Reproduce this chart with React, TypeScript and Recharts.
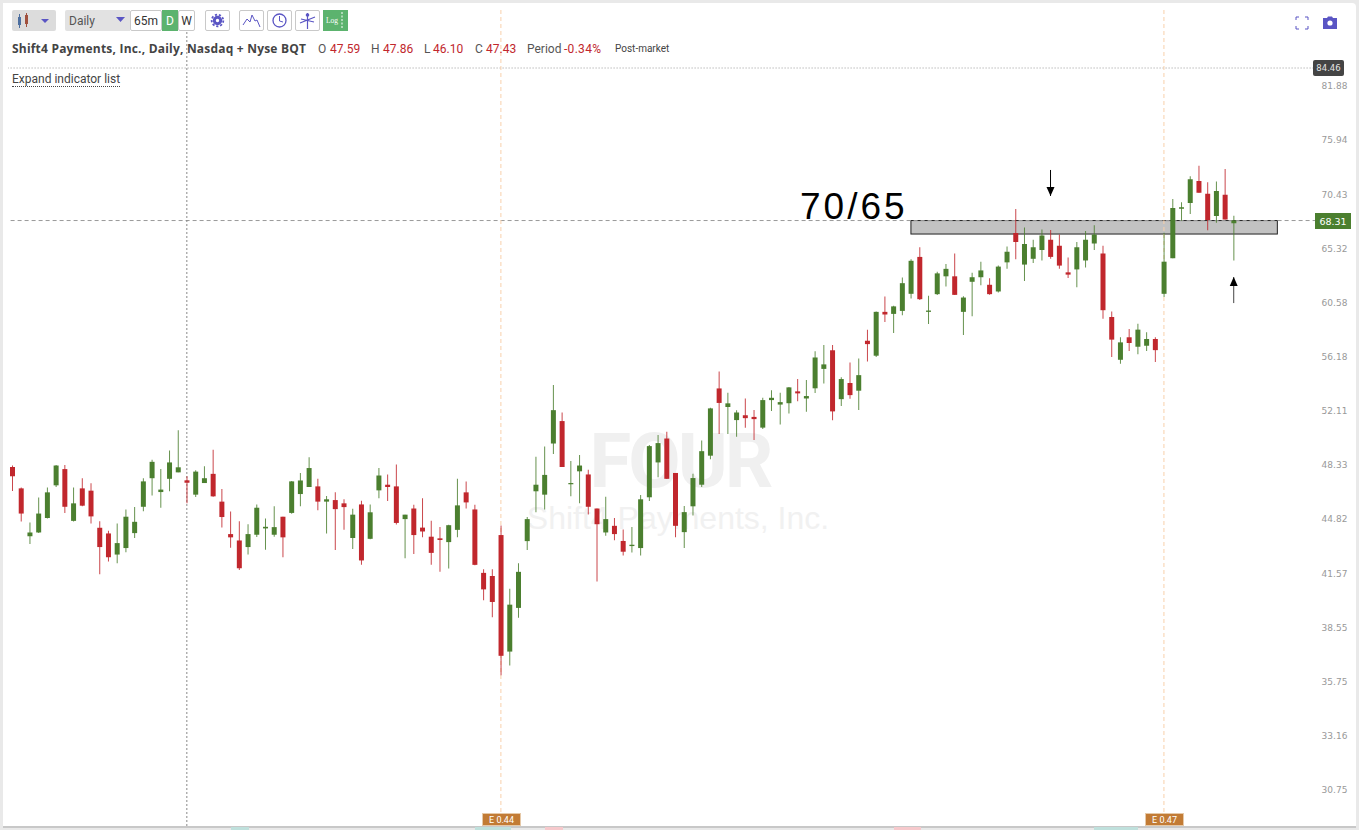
import React from "react";
import {
  ComposedChart,
  Bar,
  Cell,
  XAxis,
  YAxis,
  ReferenceLine,
  ReferenceArea,
  ReferenceDot,
} from "recharts";

const opens = [
  48.48, 47.06, 44.02, 44.26, 45.16, 47.26, 48.34, 44.98, 47.06, 46.91,
  44.55, 44.2, 42.92, 43.31, 44.22, 45.87, 47.73, 46.82, 47.69, 48.12,
  47.59, 46.65, 47.41, 48.02, 46.2, 44.16, 43.77, 43.37, 44.12, 44.51,
  44.12, 45.24, 45.48, 46.69, 47.15, 47.19, 46.2, 46.3, 46.09, 43.92,
  46.02, 43.87, 46.93, 47.3, 47.19, 45.09, 45.76, 44.56, 44.0, 43.9,
  43.67, 44.42, 46.8, 45.7, 41.84, 41.66, 44.1, 37.5, 39.85, 43.73,
  46.87, 46.65, 50.09, 51.68, 47.33, 48.19, 47.98, 45.76, 44.26, 44.67,
  43.74, 43.43, 43.31, 46.48, 48.79, 50.44, 48.08, 44.28, 45.9, 47.3,
  49.25, 54.08, 52.7, 51.75, 52.1, 51.98, 51.21, 53.21, 52.88, 52.98,
  53.86, 53.33, 54.09, 55.57, 57.03, 53.28, 54.49, 53.91, 57.79, 56.6,
  60.16, 59.99, 60.24, 61.69, 64.94, 60.16, 61.66, 63.21, 63.21, 60.16,
  62.73, 63.13, 62.47, 61.89, 64.45, 67.13, 64.25, 64.77, 65.56, 66.52,
  65.95, 63.56, 63.82, 64.62, 66.17, 65.25, 59.73, 56.28, 58.07, 57.31,
  57.39, 57.93, 61.69, 64.82, 69.45, 70.01, 72.18, 70.91, 68.74, 70.81,
  68.05,
];
const closes = [
  47.86, 45.44, 44.26, 45.44, 46.8, 48.58, 45.87, 46.09, 45.94, 45.26,
  43.37, 42.76, 43.61, 45.24, 44.92, 47.52, 48.83, 46.98, 48.79, 48.46,
  47.43, 48.17, 47.73, 46.54, 45.22, 43.96, 42.11, 44.16, 45.81, 44.61,
  44.59, 43.96, 47.52, 47.58, 48.41, 46.2, 46.35, 45.72, 45.85, 45.37,
  42.57, 45.52, 47.91, 47.15, 44.85, 45.37, 44.1, 44.32, 43.02, 43.8,
  44.71, 45.96, 46.15, 42.31, 40.89, 40.18, 37.28, 40.03, 41.9, 45.09,
  47.3, 47.95, 52.47, 48.48, 47.41, 48.58, 45.87, 44.77, 45.09, 44.16,
  43.09, 43.51, 46.35, 49.91, 50.12, 47.69, 44.67, 45.53, 47.74, 49.56,
  52.6, 53.0, 52.97, 52.3, 51.89, 51.82, 53.21, 53.38, 53.06, 54.16,
  53.71, 53.51, 56.46, 55.92, 52.38, 54.79, 53.58, 55.09, 57.52, 60.16,
  59.94, 60.62, 62.61, 64.59, 61.23, 60.27, 63.47, 63.87, 61.6, 61.37,
  63.13, 63.73, 61.66, 64.07, 65.4, 66.3, 66.11, 65.82, 66.91, 64.94,
  64.16, 63.36, 65.82, 66.52, 67.0, 60.3, 57.88, 57.66, 57.61, 58.69,
  57.93, 57.04, 64.51, 69.51, 69.58, 72.35, 71.01, 68.36, 71.18, 68.42,
  68.31,
];
const highs = [
  48.58, 47.11, 44.87, 46.46, 47.11, 48.62, 48.62, 47.11, 47.73, 47.39,
  44.96, 44.36, 44.81, 45.7, 45.85, 47.73, 48.97, 48.34, 49.6, 51.03,
  47.86, 48.27, 48.53, 49.65, 47.02, 45.57, 44.96, 44.77, 46.02, 45.13,
  45.91, 45.24, 47.55, 48.08, 49.14, 47.69, 46.56, 46.8, 46.35, 45.74,
  46.26, 46.02, 48.41, 47.97, 48.65, 45.37, 46.0, 46.41, 44.98, 44.6,
  44.73, 47.69, 47.52, 46.0, 42.05, 42.05, 44.69, 40.93, 42.41, 45.22,
  49.18, 49.88, 54.33, 52.3, 48.88, 49.3, 48.3, 45.76, 46.52, 45.16,
  44.45, 44.59, 46.63, 49.98, 50.68, 50.91, 48.08, 45.92, 48.02, 50.3,
  52.65, 55.36, 53.76, 52.47, 53.33, 52.48, 53.38, 53.94, 53.76, 54.19,
  54.79, 54.71, 56.95, 57.44, 57.44, 54.92, 56.07, 56.38, 58.69, 60.18,
  61.46, 60.68, 63.1, 64.74, 65.82, 61.52, 63.62, 64.3, 65.25, 61.49,
  63.53, 64.51, 63.04, 64.16, 65.88, 69.42, 67.65, 66.52, 67.46, 67.42,
  67.0, 64.88, 66.3, 67.33, 67.87, 65.95, 60.19, 58.07, 58.75, 59.18,
  58.48, 58.07, 67.17, 70.38, 70.06, 72.65, 73.72, 72.05, 72.12, 73.39,
  68.77,
];
const lows = [
  46.89, 44.94, 43.55, 44.22, 45.13, 47.15, 45.48, 44.94, 45.91, 44.81,
  41.76, 42.51, 42.41, 43.06, 43.92, 45.59, 46.59, 45.81, 46.87, 48.12,
  46.1, 46.5, 47.41, 46.52, 44.57, 43.33, 42.01, 42.92, 43.98, 43.21,
  44.0, 42.76, 45.42, 45.91, 47.15, 45.65, 44.2, 43.2, 44.42, 43.25,
  42.31, 43.85, 46.41, 46.24, 44.75, 42.7, 42.96, 43.96, 42.31, 41.91,
  42.09, 43.96, 45.76, 42.29, 40.28, 39.33, 36.29, 36.78, 39.31, 43.2,
  45.52, 45.7, 49.37, 48.48, 46.54, 46.09, 45.38, 41.34, 44.06, 43.78,
  42.86, 43.04, 42.86, 46.24, 47.8, 47.67, 43.96, 43.31, 45.31, 47.15,
  49.0, 50.75, 50.75, 50.56, 51.21, 50.33, 51.12, 52.4, 51.44, 52.23,
  53.13, 52.35, 53.73, 54.46, 51.73, 52.78, 53.31, 52.48, 56.15, 56.49,
  59.32, 58.42, 59.88, 61.29, 61.17, 59.15, 61.58, 62.32, 61.58, 58.25,
  59.8, 62.44, 61.6, 61.81, 63.87, 64.74, 62.81, 64.39, 64.62, 64.77,
  63.87, 63.07, 62.26, 63.99, 65.56, 59.59, 56.49, 55.97, 56.98, 56.71,
  56.98, 56.1, 61.41, 64.82, 68.29, 68.93, 71.01, 67.39, 68.1, 68.42,
  64.62,
];
const priceTicks = [81.88, 75.94, 70.43, 65.32, 60.58, 56.18, 52.11, 48.33, 44.82, 41.57, 38.55, 35.75, 33.16, 30.75];
const FUTURE_SLOTS = 9;
const lastPrice = 68.31;
const topPrice = 84.46;
const yDomain = [29.42, 91.56];
const earningsIndexes = [56, 132];
const crosshairIndex = 20;
const zone = { fromIndex: 103, toIndex: 145, top: 68.31, bottom: 67.04 };
const downArrow = { index: 119, from: 73.29, to: 70.69 };
const upArrow = { index: 140, from: 60.9, to: 63.15 };

const GREEN = "#4b7f2f";
const RED = "#c1272d";
const UNDER = 100;

type Row = { i: number; wick?: number[]; body?: number[]; up?: boolean };
const rows: Row[] = opens.map((o, i) => ({
  i,
  wick: [lows[i], highs[i]],
  body: [Math.min(o, closes[i]), Math.max(o, closes[i])],
  up: closes[i] >= o,
}));
for (let k = 0; k < FUTURE_SLOTS; k++) rows.push({ i: opens.length + k });

const txt = (x: number, y: number, s: string, style: React.CSSProperties = {}) => (
  <div
    style={{
      position: "absolute",
      left: x,
      top: y,
      lineHeight: "16px",
      height: 16,
      whiteSpace: "nowrap",
      fontFamily: "Roboto, sans-serif",
      fontSize: 12,
      color: "#555",
      ...style,
    }}
  >
    {s}
  </div>
);

const box = (x: number, y: number, w: number, h: number, style: React.CSSProperties = {}, children?: React.ReactNode) => (
  <div
    style={{
      position: "absolute",
      left: x,
      top: y,
      width: w,
      height: h,
      boxSizing: "border-box",
      display: "flex",
      alignItems: "center",
      justifyContent: "center",
      fontFamily: "Roboto, sans-serif",
      fontSize: 12,
      ...style,
    }}
  >
    {children}
  </div>
);

const PriceTick = (props: any) => {
  const { x, y, payload } = props;
  return (
    <text x={x - 3} y={y - 3.5} dominantBaseline="middle" fontFamily="DejaVu Sans" fontSize={9} fill="#999">
      {Number(payload.value).toFixed(2)}
    </text>
  );
};

const Head = (props: any) => {
  const { cx, cy, dir } = props;
  const s = dir === "down" ? -1 : 1;
  return <path d={`M${cx} ${cy} L${cx - 4} ${cy + s * 9} L${cx + 4} ${cy + s * 9} Z`} fill="#000" />;
};

// the zone runs from candle centre to candle centre, so it is inset by half a slot
const ZoneRect = (props: any) => {
  const { x, y, width, height } = props;
  const inset = 4.36;
  return <rect x={x + inset} y={y} width={width - 2 * inset} height={height} fill="#c2c2c2" stroke="#222" strokeWidth={1} />;
};

const ICON = "#5a55c4";
const btn: React.CSSProperties = { background: "#fff", border: "1px solid #c9c9c9", borderRadius: 2 };

export default function App() {
  return (
    <div style={{ position: "absolute", left: 0, top: 0, width: 1359, height: 830, background: "#e9e9e9", overflow: "hidden" }}>
      <div style={{ position: "absolute", left: 3, top: 3, width: 1353, height: 823, background: "#fff", borderTopRightRadius: 4 }} />
      {box(3, 826, 1353, 2, { background: "#c8c8c8" })}
      {box(231, 827, 18, 3, { background: "#bfe0dc" })}
      {box(475, 827, 36, 3, { background: "#bfe0dc" })}
      {box(545, 827, 18, 3, { background: "#f6c9cc" })}
      {box(894, 827, 27, 3, { background: "#f6c9cc" })}
      {box(1094, 827, 44, 3, { background: "#bfe0dc" })}

      <div style={{ position: "absolute", left: 530, top: 421, width: 300, textAlign: "center", fontFamily: "Roboto, sans-serif", fontWeight: 700, fontSize: 76, lineHeight: "80px", letterSpacing: -3, color: "#f0f0f0" }}>
        FOUR
      </div>
      <div style={{ position: "absolute", left: 478, top: 499, width: 400, textAlign: "center", fontFamily: "Liberation Sans, sans-serif", fontSize: 32, lineHeight: "38px", color: "#f1f1f1" }}>
        Shift4 Payments, Inc.
      </div>

      <div style={{ position: "absolute", left: 0, top: 0 }}>
        <ComposedChart
          width={1359}
          height={830}
          data={rows}
          margin={{ top: 10, right: 0, bottom: 4, left: 8 }}
          barGap={0}
          barCategoryGap={0}
        >
          <XAxis xAxisId="wick" dataKey="i" type="category" hide interval={0} />
          <XAxis xAxisId="body" dataKey="i" type="category" hide interval={0} />
          <YAxis
            orientation="right"
            width={42.4}
            scale="log"
            type="number"
            domain={yDomain}
            allowDataOverflow
            ticks={priceTicks}
            interval={0}
            axisLine={false}
            tickLine={false}
            tick={<PriceTick />}
          />
          <ReferenceArea
            xAxisId="wick"
            x1={zone.fromIndex}
            x2={zone.toIndex}
            y1={zone.bottom}
            y2={zone.top}
            shape={<ZoneRect />}
            {...({ zIndex: UNDER } as any)}
          />
          <ReferenceLine xAxisId="wick" y={topPrice} stroke="#999" strokeDasharray="1 2" {...({ zIndex: UNDER } as any)} />
          <ReferenceLine xAxisId="wick" y={lastPrice} stroke="#999" strokeDasharray="4 3" {...({ zIndex: UNDER } as any)} />
          <ReferenceLine xAxisId="wick" x={crosshairIndex} stroke="#888" strokeDasharray="2 2" {...({ zIndex: UNDER } as any)} />
          {earningsIndexes.map((e) => (
            <ReferenceLine key={e} xAxisId="wick" x={e} stroke="#f8d0ab" strokeDasharray="4 3" {...({ zIndex: UNDER } as any)} />
          ))}
          <Bar xAxisId="wick" dataKey="wick" barSize={1} isAnimationActive={false}>
            {rows.map((r) => (
              <Cell key={r.i} fill={r.up ? GREEN : RED} fillOpacity={0.85} />
            ))}
          </Bar>
          <Bar xAxisId="body" dataKey="body" barSize={5} minPointSize={1} isAnimationActive={false}>
            {rows.map((r) => (
              <Cell key={r.i} fill={r.up ? GREEN : RED} />
            ))}
          </Bar>
          <ReferenceLine
            xAxisId="wick"
            segment={[
              { x: downArrow.index, y: downArrow.from },
              { x: downArrow.index, y: downArrow.to },
            ]}
            stroke="#000"
          />
          <ReferenceDot xAxisId="wick" x={downArrow.index} y={downArrow.to} shape={<Head dir="down" />} />
          <ReferenceLine
            xAxisId="wick"
            segment={[
              { x: upArrow.index, y: upArrow.from },
              { x: upArrow.index, y: upArrow.to },
            ]}
            stroke="#444"
          />
          <ReferenceDot xAxisId="wick" x={upArrow.index} y={upArrow.to} shape={<Head dir="up" />} />
        </ComposedChart>
      </div>

      {txt(800, 185, "70/65", { fontFamily: "Liberation Sans, sans-serif", fontSize: 37, lineHeight: "44px", height: 44, letterSpacing: 3, color: "#000" })}

      {/* price tags */}
      {box(1313, 60, 31, 16, { background: "#444", color: "#e6e6e6", fontFamily: "DejaVu Sans", fontSize: 8.5, borderRadius: 2 }, "84.46")}
      {box(1315, 213, 36, 16, { background: GREEN, color: "#fff", fontFamily: "DejaVu Sans", fontSize: 9.5 }, "68.31")}

      {/* earnings badges */}
      {box(482, 813, 39, 13, { background: "#c27b35", color: "#fff", fontSize: 9, border: "1px solid #e6c9a8" }, "E 0.44")}
      {box(1145, 813, 39, 13, { background: "#c27b35", color: "#fff", fontSize: 9, border: "1px solid #e6c9a8" }, "E 0.47")}

      {/* toolbar */}
      {box(12, 10, 44, 21, { background: "#dcdcdc", borderRadius: 2 })}
      <svg style={{ position: "absolute", left: 12, top: 10 }} width={44} height={21}>
        <rect x={6} y={7} width={3} height={8} fill="#4d6fa0" />
        <line x1={7.5} y1={4} x2={7.5} y2={18} stroke="#4d6fa0" />
        <rect x={13} y={5} width={3} height={9} fill="#a0503d" />
        <line x1={14.5} y1={3} x2={14.5} y2={17} stroke="#a0503d" />
        <path d="M29 9 L37 9 L33 13 Z" fill={ICON} />
      </svg>
      {box(65, 10, 65, 21, { background: "#e2e2e2", borderRadius: "2px 0 0 2px" })}
      {txt(69, 13, "Daily", { color: "#555" })}
      <svg style={{ position: "absolute", left: 115, top: 16 }} width={12} height={8}>
        <path d="M1 1 L10 1 L5.5 6 Z" fill={ICON} />
      </svg>
      {box(130, 10, 32, 21, { ...btn, color: "#333" }, "65m")}
      {box(162, 10, 16, 21, { background: "#5cb36e", color: "#fff" }, "D")}
      {box(178, 10, 17, 21, { ...btn, color: "#333" }, "W")}
      {box(205, 10, 25, 21, btn)}
      <svg style={{ position: "absolute", left: 205, top: 10 }} width={25} height={21}>
        <circle cx={12.5} cy={10.5} r={3.2} fill="none" stroke={ICON} strokeWidth={3} />
        <circle cx={12.5} cy={10.5} r={5.8} fill="none" stroke={ICON} strokeWidth={1.8} strokeDasharray="2.2 1.8" />
      </svg>
      {box(239, 10, 25, 21, btn)}
      <svg style={{ position: "absolute", left: 239, top: 10 }} width={25} height={21}>
        <path d="M4 15 L8 9 L11 12 L13 5 L16 11 L18 10 L21 17" fill="none" stroke={ICON} strokeWidth={1} />
      </svg>
      {box(267, 10, 25, 21, btn)}
      <svg style={{ position: "absolute", left: 267, top: 10 }} width={25} height={21}>
        <circle cx={12.5} cy={10.5} r={6.5} fill="none" stroke={ICON} strokeWidth={1.3} />
        <path d="M12.5 6 L12.5 11 L16 12" fill="none" stroke={ICON} />
      </svg>
      {box(295, 10, 25, 21, btn)}
      <svg style={{ position: "absolute", left: 295, top: 10 }} width={25} height={21}>
        <path d="M12.5 3 L12.5 19 M5 13 L20 7 M6 9 L19 12" fill="none" stroke={ICON} strokeWidth={1.2} />
        <circle cx={12.5} cy={5} r={1.8} fill={ICON} />
      </svg>
      {box(323, 10, 25, 21, { background: "#5cb36e", color: "#fff", fontFamily: "Liberation Serif", fontSize: 7.5, justifyContent: "flex-start", paddingLeft: 3 }, "Log")}
      <svg style={{ position: "absolute", left: 323, top: 10 }} width={25} height={21}>
        <line x1={19} y1={2} x2={19} y2={19} stroke="#fff" strokeDasharray="2 1.5" />
      </svg>

      {/* header */}
      {txt(12, 41, "Shift4 Payments, Inc., Daily, Nasdaq + Nyse BQT", { fontFamily: "Open Sans, sans-serif", fontWeight: 700, color: "#444", letterSpacing: 0.2 })}
      {txt(318, 41, "O")}
      {txt(330, 41, "47.59", { color: RED })}
      {txt(371, 41, "H")}
      {txt(383, 41, "47.86", { color: RED })}
      {txt(424, 41, "L")}
      {txt(433, 41, "46.10", { color: RED })}
      {txt(475, 41, "C")}
      {txt(486, 41, "47.43", { color: RED })}
      {txt(527, 41, "Period")}
      {txt(564, 41, "-0.34%", { color: RED, letterSpacing: 0.3 })}
      {txt(615, 41, "Post-market", { fontSize: 10, color: "#444" })}
      {txt(12, 71, "Expand indicator list", { borderBottom: "1px dotted #444", color: "#444", height: 15 })}

      {/* corner icons */}
      <svg style={{ position: "absolute", left: 1290, top: 12 }} width={50} height={22}>
        <path d="M6 8 V5 H9 M15 5 H18 V8 M18 14 V17 H15 M9 17 H6 V14" fill="none" stroke={ICON} />
        <path d="M33 6 H37 L38 4.5 H42 L43 6 H47 V17 H33 Z" fill={ICON} />
        <circle cx={40} cy={11} r={2.6} fill="#fff" />
      </svg>
    </div>
  );
}
